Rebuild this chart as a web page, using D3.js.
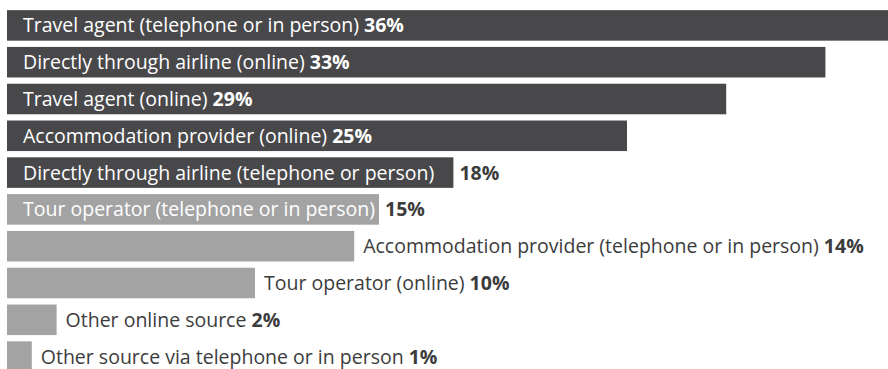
<!DOCTYPE html>
<html>
<head>
<meta charset="utf-8">
<script src="https://cdn.jsdelivr.net/npm/d3@7"></script>
<style>
  html, body { margin: 0; padding: 0; background: #ffffff; }
  svg { display: block; }
  text { font-family: "Open Sans", "Noto Sans", sans-serif; font-size: 19.5px; }
</style>
</head>
<body>
<svg id="chart" width="888" height="369"></svg>
<script>
// Booking channels and share of respondents (%)
const channels = [
  "Travel agent (telephone or in person)",
  "Directly through airline (online)",
  "Travel agent (online)",
  "Accommodation provider (online)",
  "Directly through airline (telephone or person)",
  "Tour operator (telephone or in person)",
  "Accommodation provider (telephone or in person)",
  "Tour operator (online)",
  "Other online source",
  "Other source via telephone or in person"
];
const shares = [36, 33, 29, 25, 18, 15, 14, 10, 2, 1];
// Highlighted group (top five channels) vs. the rest
const groups = ["top", "top", "top", "top", "top", "rest", "rest", "rest", "rest", "rest"];

const rows = channels.map((name, i) => ({ name, value: shares[i], group: groups[i] }));

const svg = d3.select("#chart");

const x = d3.scaleLinear().domain([0, 40]).range([7, 999]);
const y = d3.scaleBand().domain(channels).range([7, 375]).paddingInner(0.17).paddingOuter(0.085);
const fill = d3.scaleOrdinal().domain(["top", "rest"]).range(["#48484a", "#a3a3a3"]);

const inset = 16;      // left padding of labels drawn inside a bar
const gapOut = 9;      // gap between bar end and an outside label
const minInside = 15;  // smallest share whose bar carries its own label
const inkOut = "#3c3c3c";

const g = svg.selectAll("g.row").data(rows).join("g").attr("class", "row");

g.append("rect")
  .attr("x", x(0))
  .attr("y", d => y(d.name))
  .attr("width", d => x(d.value) - x(0))
  .attr("height", y.bandwidth())
  .attr("fill", d => fill(d.group));

g.each(function(d) {
  const row = d3.select(this);
  const cy = y(d.name) + y.bandwidth() / 2;
  const barEnd = x(d.value);

  // measure label and value text
  const t = row.append("text").attr("y", cy).attr("dy", "0.36em");
  t.append("tspan").text(d.name);
  const nameW = t.node().getComputedTextLength();
  t.append("tspan").attr("font-weight", 700).text(" " + d.value + "%");
  const fullW = t.node().getComputedTextLength();

  const room = barEnd - x(0) - inset;
  if (d.value >= minInside && fullW <= room) {
    // everything fits inside the bar
    t.attr("x", x(0) + inset).attr("fill", "#ffffff");
  } else if (d.value >= minInside && nameW <= room) {
    // name inside, value after the bar
    t.selectAll("tspan").filter((_, i) => i === 1).remove();
    t.attr("x", x(0) + inset).attr("fill", "#ffffff");
    row.append("text")
      .attr("x", barEnd + 6)
      .attr("y", cy).attr("dy", "0.36em")
      .attr("font-weight", 700)
      .attr("fill", inkOut)
      .text(d.value + "%");
  } else {
    // whole label after the bar
    t.attr("x", barEnd + gapOut).attr("fill", inkOut);
  }
});
</script>
</body>
</html>
